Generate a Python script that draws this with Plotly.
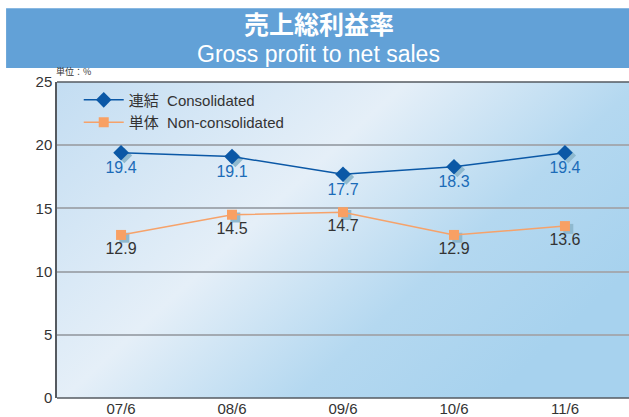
import base64
import plotly.graph_objects as go

categories = ["07/6", "08/6", "09/6", "10/6", "11/6"]
consolidated = [19.4, 19.1, 17.7, 18.3, 19.4]
non_consolidated = [12.9, 14.5, 14.7, 12.9, 13.6]
y_ticks = [0, 5, 10, 15, 20, 25]

FONT = "Liberation Sans, Noto Sans CJK JP, sans-serif"
xs = list(range(len(categories)))

svg = """<svg xmlns='http://www.w3.org/2000/svg' width='600' height='320' preserveAspectRatio='none'>
<defs><linearGradient id='g' x1='0' y1='0' x2='1' y2='0.6'>
<stop offset='0' stop-color='#c3ddf2'/>
<stop offset='0.45' stop-color='#e5eff8'/>
<stop offset='0.75' stop-color='#b4d8f0'/>
<stop offset='1' stop-color='#a7d2ee'/>
</linearGradient></defs>
<rect width='600' height='320' fill='url(#g)'/></svg>"""
bg_src = "data:image/svg+xml;base64," + base64.b64encode(svg.encode()).decode()

fig = go.Figure()

# shadows
fig.add_trace(go.Scatter(x=[x + 0.03 for x in xs], y=[v - 0.22 for v in consolidated],
                         mode="markers", marker=dict(symbol="diamond", size=12, color="#8fb9cf"),
                         showlegend=False, hoverinfo="skip"))
fig.add_trace(go.Scatter(x=[x + 0.03 for x in xs], y=[v - 0.22 for v in non_consolidated],
                         mode="markers", marker=dict(symbol="square", size=10, color="#8fb9cf"),
                         showlegend=False, hoverinfo="skip"))

fig.add_trace(go.Scatter(x=xs, y=consolidated, mode="lines+markers+text",
                         name="連結\u00a0\u00a0Consolidated",
                         line=dict(color="#0b58a6", width=1.5),
                         marker=dict(symbol="diamond", size=12, color="#0b58a6"),
                         text=[f"{v:.1f}" for v in consolidated], textposition="bottom center",
                         textfont=dict(size=16, color="#1b6bb8", family=FONT)))
fig.add_trace(go.Scatter(x=xs, y=non_consolidated, mode="lines+markers+text",
                         name="単体\u00a0\u00a0Non-consolidated",
                         line=dict(color="#f6a26a", width=1.5),
                         marker=dict(symbol="square", size=10, color="#f8a064"),
                         text=[f"{v:.1f}" for v in non_consolidated], textposition="bottom center",
                         textfont=dict(size=16, color="#333333", family=FONT)))

fig.update_layout(
    width=629, height=417,
    margin=dict(l=57, r=0, t=82, b=17),
    paper_bgcolor="white",
    plot_bgcolor="rgba(0,0,0,0)",
    font=dict(family=FONT, color="#333333"),
    showlegend=True,
    legend=dict(x=0.038, y=0.995, xanchor="left", yanchor="top", bgcolor="rgba(0,0,0,0)",
                font=dict(size=15, color="#333333", family=FONT), tracegroupgap=0,
                itemwidth=40),
    xaxis=dict(range=[-0.577, 4.577], tickvals=xs, ticktext=categories, showgrid=False,
               zeroline=False, showline=False, ticks="", tickfont=dict(size=15, color="#333333"),
               fixedrange=True),
    yaxis=dict(range=[0, 25], tickvals=y_ticks, showgrid=True, gridcolor="#a3aab2", gridwidth=1.5,
               zeroline=False, showline=True, linecolor="#555a60", linewidth=1.5, ticks="",
               tickfont=dict(size=15, color="#333333"), ticklen=0, fixedrange=True),
    images=[dict(source=bg_src, xref="paper", yref="paper", x=0, y=1, sizex=1, sizey=1,
                 sizing="stretch", layer="below", xanchor="left", yanchor="top")],
    shapes=[
        dict(type="rect", xref="paper", yref="paper", x0=-0.089, x1=1.0, y0=1.044, y1=1.233,
             fillcolor="#62a1d7", line=dict(width=0), layer="above"),
        dict(type="line", xref="paper", yref="paper", x0=0, x1=1, y0=0, y1=0,
             line=dict(color="#555a60", width=1.5)),
        dict(type="line", xref="paper", yref="paper", x0=0, x1=1, y0=1, y1=1,
             line=dict(color="#555a60", width=1.5)),
    ],
    annotations=[
        dict(text="<b>売上総利益率</b>", xref="paper", yref="paper", x=0.458, y=1.188, xanchor="center",
             yanchor="middle", showarrow=False,
             font=dict(size=25, color="white", family="Noto Sans CJK JP")),
        dict(text="Gross profit to net sales", xref="paper", yref="paper", x=0.458, y=1.09,
             xanchor="center", yanchor="middle", showarrow=False,
             font=dict(size=23, color="white", family=FONT)),
        dict(text="単位：%", xref="paper", yref="paper", x=-0.005, y=1.005, xanchor="left",
             yanchor="bottom", showarrow=False,
             font=dict(size=9, color="#333333", family="Noto Sans CJK JP")),
    ],
)

fig.write_html("out.html", config={"displayModeBar": False},
               post_script="document.body.style.margin='0px';")
